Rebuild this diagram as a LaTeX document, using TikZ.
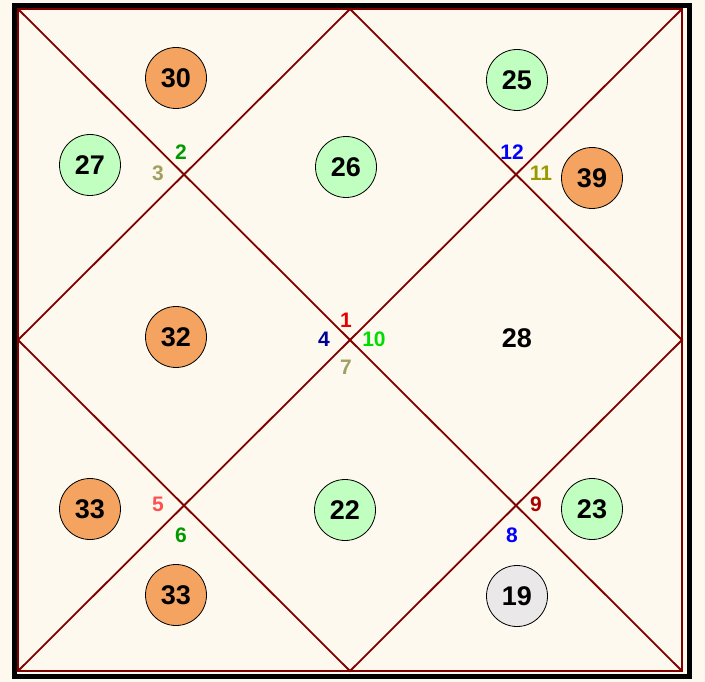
\documentclass[tikz,border=0pt]{standalone}
\usepackage{fontspec}
\setmainfont{Liberation Sans}
\definecolor{bgc}{RGB}{254,249,239}
\definecolor{linec}{RGB}{128,0,0}
\definecolor{orangec}{RGB}{244,164,96}
\definecolor{greenc}{RGB}{193,255,193}
\definecolor{grayc}{RGB}{234,232,232}
\definecolor{cgreen}{RGB}{0,153,0}
\definecolor{colive}{RGB}{160,160,96}
\definecolor{colive2}{RGB}{153,153,0}
\definecolor{cblue}{RGB}{0,0,255}
\definecolor{cnavy}{RGB}{0,0,153}
\definecolor{cred}{RGB}{230,0,0}
\definecolor{cbright}{RGB}{0,221,0}
\definecolor{clightred}{RGB}{255,80,80}
\definecolor{cdarkred}{RGB}{170,0,0}
\tikzset{
  planet/.style={circle, draw=black, line width=0.8pt, minimum size=61pt, inner sep=0pt, font=\fontsize{27}{27}\selectfont\bfseries},
  orangep/.style={planet, fill=orangec},
  greenp/.style={planet, fill=greenc},
  grayp/.style={planet, fill=grayc},
  plain/.style={inner sep=0pt, font=\fontsize{27}{27}\selectfont\bfseries},
  house/.style={inner sep=0pt, font=\fontsize{21}{21}\selectfont\bfseries},
  chartline/.style={draw=linec, line width=1.8pt}
}
\begin{document}
\begin{tikzpicture}[x=1pt,y=-1pt]
\useasboundingbox (0,0) rectangle (705,682);
\fill[bgc] (0,0) rectangle (705,682);
% frame
\draw[black, line width=5pt] (14.5,5.5) rectangle (689.5,676.5);
\coordinate (tl) at (18,9);
\coordinate (tr) at (682,9);
\coordinate (br) at (682,671);
\coordinate (bl) at (18,671);
\coordinate (tm) at (350,9);
\coordinate (rm) at (682,340);
\coordinate (bm) at (350,671);
\coordinate (lm) at (18,340);
\draw[chartline] (tl) rectangle (br);
\draw[chartline] (tl) -- (br);
\draw[chartline] (tr) -- (bl);
\draw[chartline] (tm) -- (rm) -- (bm) -- (lm) -- cycle;
% planets
\node[orangep] (p30) at (176,78) {30};
\node[greenp] (p27) at (90,165) {27};
\node[greenp] (p26) at (346,167) {26};
\node[greenp] (p25) at (517,80) {25};
\node[orangep] (p39) at (592,178) {39};
\node[orangep] (p32) at (176,337) {32};
\node[plain] (p28) at (517,338) {28};
\node[orangep] (p33a) at (90,509) {33};
\node[greenp] (p22) at (345,510) {22};
\node[greenp] (p23) at (592,509) {23};
\node[orangep] (p33b) at (176,595) {33};
\node[grayp] (p19) at (517,596) {19};
% house numbers
\node[house, text=cgreen] (h2) at (181,152) {2};
\node[house, text=colive] (h3) at (158,173) {3};
\node[house, text=cblue] (h12) at (512,152) {12};
\node[house, text=colive2] (h11) at (541,173) {11};
\node[house, text=cred] (h1) at (346,320) {1};
\node[house, text=cnavy] (h4) at (324,339) {4};
\node[house, text=cbright] (h10) at (374,339) {10};
\node[house, text=colive] (h7) at (346,367) {7};
\node[house, text=clightred] (h5) at (158,504) {5};
\node[house, text=cgreen] (h6) at (181,535) {6};
\node[house, text=cdarkred] (h9) at (536,504) {9};
\node[house, text=cblue] (h8) at (512,535) {8};
\end{tikzpicture}
\end{document}
